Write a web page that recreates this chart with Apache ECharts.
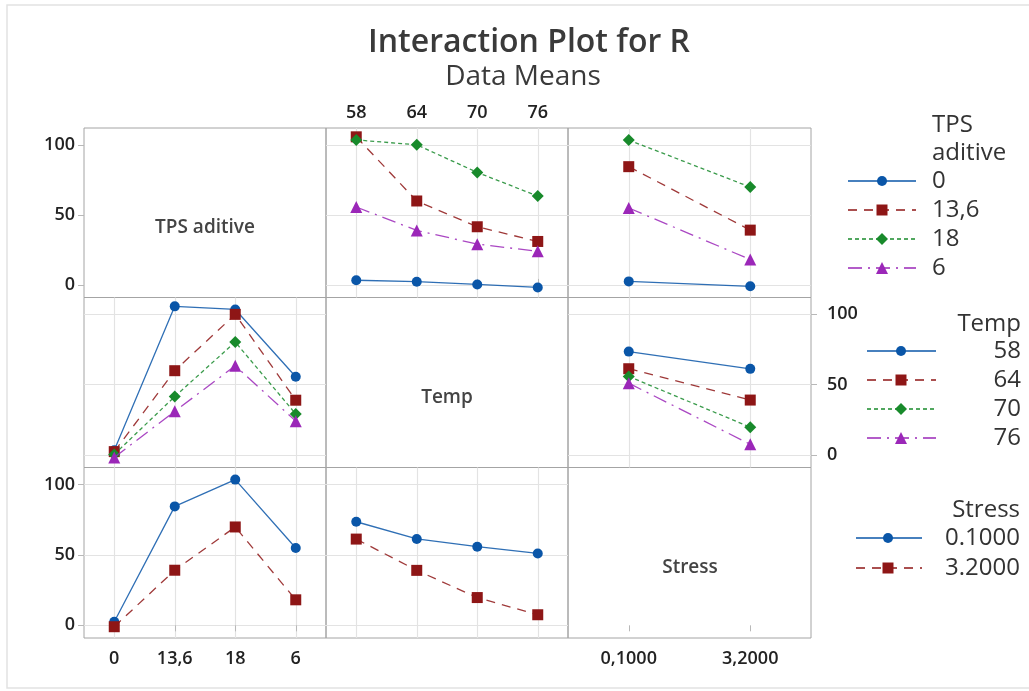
<!DOCTYPE html>
<html><head><meta charset="utf-8">
<script src="https://cdn.jsdelivr.net/npm/echarts@6/dist/echarts.min.js"></script>
<style>html,body{margin:0;padding:0;background:#fff}#c{width:1029px;height:691px}</style>
</head><body><div id="c"></div>
<script>
// ---- data ----
const tpsLevels = ['0', '13,6', '18', '6'];
const tempLevels = ['58', '64', '70', '76'];
const stressAxisLabels = ['0,1000', '3,2000'];
const stressLegendLabels = ['0.1000', '3.2000'];
const yTicks = [0, 50, 100];

// mean R, rows = TPS aditive level, columns = Temp level
const meanTpsTemp = [
  [3.3, 2.3, 0.3, -1.8],
  [105.7, 59.9, 41.5, 31.0],
  [103.5, 100.0, 80.3, 63.4],
  [55.6, 38.9, 29.1, 24.0]
];
// mean R, rows = TPS aditive level, columns = Stress level
const meanTpsStress = [
  [2.5, -1.0],
  [84.4, 39.1],
  [103.4, 69.8],
  [54.9, 18.1]
];
// mean R, rows = Temp level, columns = Stress level
const meanTempStress = [
  [73.5, 61.2],
  [61.3, 39.0],
  [55.8, 19.7],
  [51.0, 7.5]
];

// ---- styles ----
const FONT = "'Open Sans', 'Noto Sans', 'DejaVu Sans', sans-serif";
const styles = [
  { color: '#0a56a8', symbol: 'circle', size: 10, dash: 'solid', gdash: null },
  { color: '#8e1616', symbol: 'rect', size: 11, dash: [9, 7], gdash: [9, 7] },
  { color: '#188a2b', symbol: 'diamond', size: 12, dash: [4, 3], gdash: [4, 3] },
  { color: '#9b27b8', symbol: 'triangle', size: 12, dash: [14, 6, 2, 6], gdash: [14, 6, 2, 6] }
];

const colX = [84, 326, 568];
const colW = [242, 242, 243];
const rowY = [128, 297.5, 467.5];
const rowH = [169.5, 170, 170.5];
const Y_MIN = -9, Y_MAX = 112;
const xCats = [tpsLevels, tempLevels, stressAxisLabels];

const grids = [], xAxes = [], yAxes = [], series = [];
const gridColor = '#e3e3e3';
const tickColor = '#b8b8b8';
const tickFont = { fontFamily: FONT, fontSize: 18, fontWeight: 600, color: '#222' };
for (let r = 0; r < 3; r++) {
  for (let c = 0; c < 3; c++) {
    const idx = r * 3 + c;
    const diag = r === c;
    grids.push({ left: colX[c], top: rowY[r], width: colW[c], height: rowH[r], show: true,
      borderColor: '#a4a4a4', borderWidth: 1, backgroundColor: 'rgba(0,0,0,0)' });
    const showX = (r === 0 && c === 1) || (r === 2 && c !== 1);
    xAxes.push({
      gridIndex: idx, type: 'category', data: xCats[c], boundaryGap: true,
      position: r === 0 ? 'top' : 'bottom',
      axisLine: { show: false },
      axisTick: { show: showX, alignWithLabel: true, length: 6, lineStyle: { color: tickColor } },
      axisLabel: Object.assign({ show: showX, margin: r === 0 ? 6 : 12 }, tickFont),
      splitLine: { show: !diag, alignWithLabel: true, lineStyle: { color: gridColor, width: 1.2 } }
    });
    const showY = (c === 0 && r !== 1) || (r === 1 && c === 2);
    yAxes.push({
      gridIndex: idx, type: 'value', min: Y_MIN, max: Y_MAX,
      position: c === 2 ? 'right' : 'left',
      axisLine: { show: false },
      axisTick: { show: showY, customValues: yTicks, length: 6, lineStyle: { color: tickColor } },
      axisLabel: Object.assign({ show: showY, customValues: yTicks, margin: c === 2 ? 16 : 9 }, tickFont),
      splitLine: { show: !diag, lineStyle: { color: gridColor, width: 1.2 } }
    });
  }
}

const panelDefs = [
  { r: 0, c: 1, rows: meanTpsTemp },
  { r: 0, c: 2, rows: meanTpsStress },
  { r: 1, c: 0, rows: tempLevels.map((_, j) => meanTpsTemp.map(row => row[j])) },
  { r: 1, c: 2, rows: meanTempStress },
  { r: 2, c: 0, rows: stressLegendLabels.map((_, s) => meanTpsStress.map(row => row[s])) },
  { r: 2, c: 1, rows: stressLegendLabels.map((_, s) => meanTempStress.map(row => row[s])) }
];
panelDefs.forEach(p => {
  const idx = p.r * 3 + p.c;
  p.rows.forEach((vals, i) => {
    const st = styles[i];
    series.push({
      type: 'line', xAxisIndex: idx, yAxisIndex: idx, data: vals,
      symbol: st.symbol, symbolSize: st.size, showSymbol: true, silent: true,
      itemStyle: { color: st.color },
      lineStyle: { color: st.color, width: 1.3, type: st.dash, opacity: 0.85 },
      z: 3 + i
    });
  });
});

// ---- graphics: titles, diagonal labels, legends ----
const graphics = [];
graphics.push({ type: 'rect', shape: { x: 7, y: 5, width: 1030, height: 683 },
  style: { fill: 'none', stroke: '#e2e2e2', lineWidth: 1.5 }, silent: true });
function txt(x, y, text, size, align, weight, color) {
  graphics.push({ type: 'text', x: x, y: y, silent: true,
    style: { text: text, font: (weight || 'normal') + ' ' + size + 'px ' + FONT, fill: color || '#333',
      align: align || 'left', verticalAlign: 'middle' } });
}
txt(529, 43, 'Interaction Plot for R', 32, 'center', '600', '#3a3a3a');
txt(523, 77, 'Data Means', 28, 'center', 'normal', '#3a3a3a');
txt(205, 228, 'TPS aditive', 19, 'center', '600', '#444');
txt(447, 398, 'Temp', 19, 'center', '600', '#444');
txt(690, 568, 'Stress', 19, 'center', '600', '#444');

function symbolShape(st, cx, cy) {
  const s = st.size;
  const h = s / 2;
  if (st.symbol === 'circle') return { type: 'circle', shape: { cx: cx, cy: cy, r: h }, style: { fill: st.color }, silent: true };
  if (st.symbol === 'rect') return { type: 'rect', shape: { x: cx - h, y: cy - h, width: s, height: s }, style: { fill: st.color }, silent: true };
  if (st.symbol === 'diamond') return { type: 'polygon', shape: { points: [[cx, cy - h], [cx + h, cy], [cx, cy + h], [cx - h, cy]] }, style: { fill: st.color }, silent: true };
  return { type: 'polygon', shape: { points: [[cx, cy - h], [cx + h, cy + h], [cx - h, cy + h]] }, style: { fill: st.color }, silent: true };
}
function legendItem(x1, x2, xm, y, st) {
  graphics.push({ type: 'line', shape: { x1: x1, y1: y, x2: x2, y2: y }, silent: true,
    style: { stroke: st.color, lineWidth: 1.4, lineDash: st.gdash } });
  graphics.push(symbolShape(st, xm, y));
}
const LF = 24;
// TPS legend
txt(932, 125, 'TPS', LF, 'left', 'normal', '#333');
txt(932, 153, 'aditive', LF, 'left', 'normal', '#333');
const tpsY = [181, 210, 239, 268];
tpsLevels.forEach((l, i) => { legendItem(848, 916, 882, tpsY[i], styles[i]); txt(932, tpsY[i], l, LF, 'left', 'normal', '#333'); });
// Temp legend
txt(1021, 324, 'Temp', LF, 'right', 'normal', '#333');
const tempY = [351, 380, 409, 438];
tempLevels.forEach((l, i) => { legendItem(867, 936, 901, tempY[i], styles[i]); txt(1021, tempY[i], l, LF, 'right', 'normal', '#333'); });
// Stress legend
txt(1020, 510, 'Stress', LF, 'right', 'normal', '#333');
const stressY = [538, 568];
stressLegendLabels.forEach((l, i) => { legendItem(856, 922, 888, stressY[i], styles[i]); txt(1020, stressY[i], l, LF, 'right', 'normal', '#333'); });

const chart = echarts.init(document.getElementById('c'));
chart.setOption({
  animation: false,
  backgroundColor: '#fff',
  grid: grids, xAxis: xAxes, yAxis: yAxes, series: series,
  graphic: graphics
});
</script>
</body></html>
